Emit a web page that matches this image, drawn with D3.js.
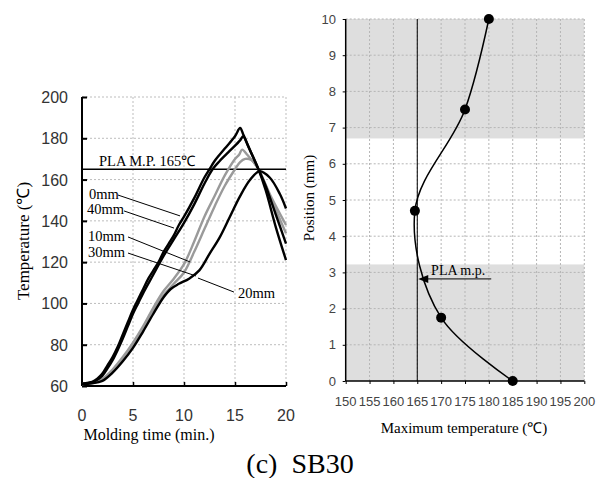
<!DOCTYPE html>
<html><head><meta charset="utf-8">
<script src="https://cdn.jsdelivr.net/npm/d3@7"></script>
<style>body{margin:0;background:#fff}svg{display:block}</style>
</head><body>
<svg id="c" width="599" height="478"></svg>
<script>
// ---------- Left chart data: temperature vs molding time ----------
const timeTicks = [0, 5, 10, 15, 20];
const tempTicks = [60, 80, 100, 120, 140, 160, 180, 200];
const s0mm  = [[0,61],[0.5,61.5],[1,62],[1.5,63.5],[2,66],[2.5,70],[3,74],[3.5,79],[4,85],[4.5,91],[5,97],[5.5,102],[6,107],[6.5,112],[7,116],[7.5,120],[8,125],[8.5,129],[9,133],[9.5,138],[10,142],[11,151],[12,161],[12.5,165],[13,169],[14,175],[15,181],[15.5,185],[15.8,182],[16.5,174],[17.3,165],[18,155],[19,137],[20,121]];
const s40mm = [[0,61],[0.5,61.4],[1,61.8],[1.5,63],[2,65],[2.5,68.5],[3,72.5],[3.5,77.5],[4,83],[4.5,89],[5,95],[5.5,100],[6,105],[7,114],[8,123],[9,131],[10,139],[11,148],[12,158],[12.8,165],[13.5,169],[14.5,174],[15.5,179],[15.8,181],[16.3,176],[17.3,165],[18,157],[19,143],[20,129]];
const s10mm = [[0,61],[1,61.5],[2,63.5],[3,68],[4,74],[5,81],[6,89],[7,98],[8,106],[9,112],[10,119],[11,130],[12,142],[13,152],[14,162],[15,170],[15.4,172],[15.7,174.5],[16.2,172],[17.3,165],[18.5,151],[20,134]];
const s30mm = [[0,61],[1,61.5],[2,63],[3,67.5],[4,73],[5,80],[6,88],[7,96.5],[8,104],[9,109.5],[10,115],[11,125],[12,136],[13,147],[14,157],[15,165],[15.5,168.5],[16,170],[16.6,169.5],[17.3,165],[18.5,152],[20,138]];
const s20mm = [[0,61],[1,61.3],[2,62.5],[3,66.5],[4,72],[5,78.5],[6,86.5],[7,95],[8,103],[8.7,107],[9.5,109.5],[10.5,112],[11.5,116],[12.5,124],[13.5,132],[14.5,142],[15.5,152],[16.5,160],[17.4,164],[18.4,161],[19.4,153],[20,146]];
const seriesNames  = ["0mm", "40mm", "10mm", "30mm", "20mm"];
const seriesData   = [s0mm, s40mm, s10mm, s30mm, s20mm];
const seriesColors = ["#000", "#000", "#9a9a9a", "#9a9a9a", "#000"];
// label anchor [t, T] and leader [t1,T1,t2,T2]
const labelPos  = [[0.69,150.6],[0.49,143.3],[0.59,130.3],[0.59,122.5],[15.3,102.6]];
const leaderPos = [[3.53,152.5,9.61,142.4],[4.12,144.8,9.02,136.5],[4.51,132.2,10.59,120.1],[4.51,124.4,11.18,113.3],[14.9,105.5,11.37,112.3]];
const plaMP = 165;

// ---------- Right chart data: maximum temperature vs position ----------
const maxTempTicks = [150,155,160,165,170,175,180,185,190,195,200];
const positionTicks = [0,1,2,3,4,5,6,7,8,9,10];
const maxTemp  = [185, 170, 164.5, 175, 180];
const position = [0, 1.75, 4.7, 7.5, 10];
const bands = [[6.7, 10], [0, 3.22]];

const svg = d3.select("#c");
const serif = "'Liberation Serif','Times New Roman',serif";
const sans = "'Liberation Sans',Arial,sans-serif";
const narrow = "'Liberation Sans Narrow','Arial Narrow','Liberation Sans',sans-serif";

// ===== Left chart =====
const xL = d3.scaleLinear().domain([0,20]).range([82,286]);
const yL = d3.scaleLinear().domain([60,200]).range([386,97]);
const gL = svg.append("g");

gL.selectAll(".gx").data(timeTicks.slice(1)).join("line")
  .attr("x1", d=>xL(d)).attr("x2", d=>xL(d)).attr("y1", yL(200)).attr("y2", yL(60))
  .attr("stroke","#bdbdbd").attr("stroke-dasharray","2,2");
gL.selectAll(".gy").data(tempTicks.slice(1)).join("line")
  .attr("x1", xL(0)).attr("x2", xL(20)).attr("y1", d=>yL(d)).attr("y2", d=>yL(d))
  .attr("stroke","#bdbdbd").attr("stroke-dasharray","2,2");

const axL = gL.append("g").attr("transform",`translate(${xL(0)},0)`)
  .call(d3.axisRight(yL).tickValues(tempTicks).tickSize(5).tickFormat(""));
axL.select(".domain").attr("stroke-width",2).attr("d",`M0,${yL(200)}V${yL(60)}`);
axL.selectAll(".tick line").attr("stroke-width",2);
const axB = gL.append("g").attr("transform",`translate(0,${yL(60)})`)
  .call(d3.axisTop(xL).tickValues(timeTicks).tickSize(4).tickFormat(""));
axB.select(".domain").attr("stroke-width",2).attr("d",`M${xL(0)},0H${xL(20)}`);
axB.selectAll(".tick line").attr("stroke-width",1.5);

gL.selectAll(".ly").data(tempTicks).join("text")
  .attr("x", 68).attr("y", d=>yL(d)+6).attr("text-anchor","end")
  .attr("font-family",sans).attr("font-size",16).attr("fill","#333").text(d=>d);
gL.selectAll(".lx").data(timeTicks).join("text")
  .attr("x", d=>xL(d)).attr("y", 421).attr("text-anchor","middle")
  .attr("font-family",sans).attr("font-size",16).attr("fill","#333").text(d=>d);

gL.append("text").attr("transform","translate(29,241) rotate(-90)").attr("text-anchor","middle")
  .attr("font-family",serif).attr("font-size",17).text("Temperature (℃)");
gL.append("text").attr("x",149).attr("y",440).attr("text-anchor","middle")
  .attr("font-family",serif).attr("font-size",16).text("Molding time (min.)");

gL.append("line").attr("x1",xL(0)).attr("x2",xL(20)).attr("y1",yL(plaMP)).attr("y2",yL(plaMP))
  .attr("stroke","#000").attr("stroke-width",1.3);
gL.append("text").attr("x",99).attr("y",yL(plaMP)-3).attr("font-family",serif).attr("font-size",14.5)
  .text("PLA M.P. 165℃");

const lineL = d3.line().x(d=>xL(d[0])).y(d=>yL(d[1])).curve(d3.curveCatmullRom.alpha(0.5));
const order = [2,3,4,1,0];
order.forEach(i=>{
  gL.append("path").attr("d", lineL(seriesData[i])).attr("fill","none")
    .attr("stroke", seriesColors[i]).attr("stroke-width", 2.4).attr("stroke-linejoin","round");
});

seriesNames.forEach((n,i)=>{
  const l = leaderPos[i];
  gL.append("line").attr("x1",xL(l[0])).attr("y1",yL(l[1])).attr("x2",xL(l[2])).attr("y2",yL(l[3]))
    .attr("stroke","#000").attr("stroke-width",1);
  gL.append("text").attr("x",xL(labelPos[i][0])).attr("y",yL(labelPos[i][1]))
    .attr("font-family",serif).attr("font-size",14.5).text(n);
});

// ===== Right chart =====
const xR = d3.scaleLinear().domain([150,200]).range([345.7,584.3]);
const yR = d3.scaleLinear().domain([0,10]).range([381,19]);
const gR = svg.append("g");

gR.selectAll(".band").data(bands).join("rect")
  .attr("x", xR(150)).attr("width", xR(200)-xR(150))
  .attr("y", d=>yR(d[1])).attr("height", d=>yR(d[0])-yR(d[1])).attr("fill","#dedede");

gR.selectAll(".gx").data(maxTempTicks.slice(1)).join("line")
  .attr("x1", d=>xR(d)).attr("x2", d=>xR(d)).attr("y1", yR(10)).attr("y2", yR(0))
  .attr("stroke","#b5b5b5").attr("stroke-dasharray","2,2");
gR.selectAll(".gy").data(positionTicks.slice(1)).join("line")
  .attr("x1", xR(150)).attr("x2", xR(200)).attr("y1", d=>yR(d)).attr("y2", d=>yR(d))
  .attr("stroke","#b5b5b5").attr("stroke-dasharray","2,2");

const aRL = gR.append("g").attr("transform",`translate(${xR(150)},0)`)
  .call(d3.axisLeft(yR).tickValues(positionTicks).tickSize(3).tickFormat(""));
aRL.select(".domain").attr("stroke-width",1.5).attr("d",`M0,${yR(10)}V${yR(0)}`);
const aRB = gR.append("g").attr("transform",`translate(0,${yR(0)})`)
  .call(d3.axisBottom(xR).tickValues(maxTempTicks).tickSize(3).tickFormat(""));
aRB.select(".domain").attr("stroke-width",1.5).attr("d",`M${xR(150)},0H${xR(200)}`);

gR.selectAll(".ly").data(positionTicks).join("text")
  .attr("x", 336).attr("y", d=>yR(d)+4.5).attr("text-anchor","end")
  .attr("font-family",narrow).attr("font-size",13).attr("fill","#444").text(d=>d);
gR.selectAll(".lx").data(maxTempTicks).join("text")
  .attr("x", d=>xR(d)).attr("y", 406).attr("text-anchor","middle")
  .attr("font-family",narrow).attr("font-size",13).attr("fill","#444").text(d=>d);

gR.append("text").attr("transform","translate(314,198) rotate(-90)").attr("text-anchor","middle")
  .attr("font-family",serif).attr("font-size",15).text("Position (mm)");
gR.append("text").attr("x",464).attr("y",433).attr("text-anchor","middle")
  .attr("font-family",serif).attr("font-size",15).text("Maximum temperature (℃)");

gR.append("line").attr("x1",xR(plaMP)).attr("x2",xR(plaMP)).attr("y1",yR(10)).attr("y2",yR(0))
  .attr("stroke","#000").attr("stroke-width",1);

const arrowY = 2.82;
gR.append("line").attr("x1",xR(180.5)).attr("x2",xR(166.5)).attr("y1",yR(arrowY)).attr("y2",yR(arrowY))
  .attr("stroke","#000").attr("stroke-width",1);
gR.append("path").attr("d",`M${xR(165.2)},${yR(arrowY)}l10,-4l0,8z`).attr("fill","#000");
gR.append("text").attr("x",xR(167.9)).attr("y",yR(2.93)).attr("font-family",serif).attr("font-size",14)
  .text("PLA m.p.");

const pts = maxTemp.map((t,i)=>[t, position[i]]);
const lineR = d3.line().x(d=>xR(d[0])).y(d=>yR(d[1])).curve(d3.curveCatmullRom.alpha(1));
gR.append("path").attr("d", lineR(pts)).attr("fill","none").attr("stroke","#000").attr("stroke-width",1.5);
gR.selectAll(".pt").data(pts).join("circle")
  .attr("cx", d=>xR(d[0])).attr("cy", d=>yR(d[1])).attr("r",5).attr("fill","#000");

svg.append("text").attr("x",300).attr("y",473).attr("text-anchor","middle")
  .attr("font-family",serif).attr("font-size",28).style("white-space","pre")
  .text("(c)  SB30");
</script>
</body></html>
